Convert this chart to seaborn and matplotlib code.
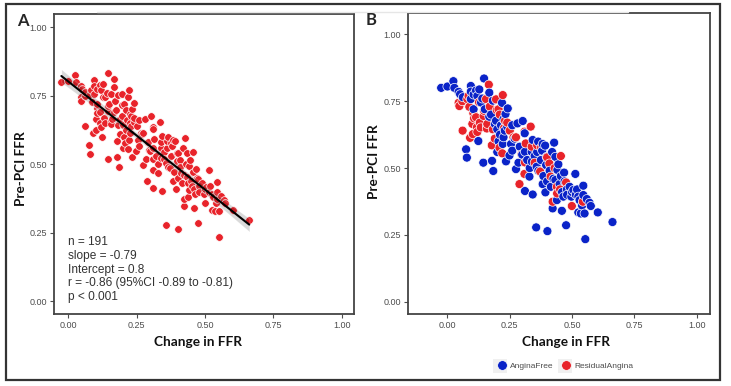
import matplotlib
matplotlib.use("Agg")
import matplotlib.pyplot as plt
from matplotlib.lines import Line2D
from matplotlib.patches import Rectangle
import seaborn as sns
import pandas as pd
import numpy as np

# ---- data ----
angina_free_x = [-0.025, 0.0, 0.024, 0.028, 0.045, 0.051, 0.062, 0.094, 0.094, 0.094,
                 0.105, 0.115, 0.128, 0.147, 0.168, 0.182, 0.219, 0.242, 0.233, 0.225,
                 0.195, 0.168, 0.158, 0.24, 0.211, 0.225, 0.205, 0.222, 0.124, 0.075,
                 0.078, 0.144, 0.179, 0.184, 0.235, 0.249, 0.275, 0.281, 0.302, 0.311,
                 0.329, 0.311, 0.342, 0.338, 0.339, 0.342, 0.364, 0.358, 0.382, 0.392,
                 0.398, 0.396, 0.382, 0.393, 0.428, 0.433, 0.445, 0.441, 0.433, 0.439,
                 0.422, 0.459, 0.468, 0.465, 0.479, 0.497, 0.513, 0.505, 0.525, 0.545,
                 0.545, 0.525, 0.535, 0.559, 0.575, 0.603, 0.662, 0.356, 0.401, 0.476,
                 0.553, 0.12, 0.135, 0.15, 0.175, 0.19, 0.20, 0.215, 0.23, 0.26,
                 0.27, 0.29, 0.30, 0.32, 0.33, 0.35, 0.365, 0.375, 0.385, 0.40,
                 0.41, 0.415, 0.42, 0.425, 0.45, 0.455, 0.46, 0.47, 0.48, 0.49,
                 0.50, 0.515, 0.52, 0.53, 0.54, 0.55, 0.57, 0.38, 0.36, 0.31,
                 0.285, 0.255, 0.26, 0.20, 0.105, 0.14]
angina_free_y = [0.80, 0.805, 0.825, 0.80, 0.785, 0.776, 0.765, 0.807, 0.786, 0.758,
                 0.775, 0.79, 0.794, 0.835, 0.782, 0.752, 0.744, 0.723, 0.702, 0.683,
                 0.677, 0.692, 0.658, 0.655, 0.625, 0.615, 0.60, 0.59, 0.601, 0.57,
                 0.539, 0.52, 0.527, 0.489, 0.525, 0.547, 0.496, 0.667, 0.676, 0.561,
                 0.468, 0.414, 0.401, 0.561, 0.524, 0.605, 0.599, 0.505, 0.59, 0.584,
                 0.542, 0.511, 0.44, 0.409, 0.595, 0.542, 0.514, 0.493, 0.455, 0.38,
                 0.349, 0.34, 0.483, 0.393, 0.42, 0.393, 0.478, 0.418, 0.393, 0.434,
                 0.399, 0.334, 0.33, 0.384, 0.358, 0.334, 0.298, 0.278, 0.264, 0.286,
                 0.234, 0.77, 0.745, 0.72, 0.70, 0.665, 0.645, 0.66, 0.64, 0.66,
                 0.61, 0.58, 0.55, 0.53, 0.50, 0.545, 0.49, 0.53, 0.47, 0.45,
                 0.49, 0.43, 0.56, 0.46, 0.44, 0.47, 0.41, 0.45, 0.40, 0.43,
                 0.41, 0.40, 0.42, 0.38, 0.36, 0.33, 0.37, 0.565, 0.56, 0.63,
                 0.52, 0.59, 0.565, 0.56, 0.72, 0.76]
residual_x = [0.045, 0.048, 0.08, 0.088, 0.127, 0.155, 0.166, 0.222, 0.195, 0.198,
              0.147, 0.104, 0.107, 0.118, 0.134, 0.158, 0.182, 0.061, 0.091, 0.102,
              0.178, 0.209, 0.231, 0.227, 0.265, 0.275, 0.334, 0.309, 0.314, 0.297,
              0.311, 0.309, 0.289, 0.338, 0.372, 0.376, 0.409, 0.414, 0.455, 0.439,
              0.452, 0.476, 0.422, 0.499, 0.543, 0.115, 0.13, 0.17, 0.21, 0.19,
              0.24, 0.10, 0.12, 0.16, 0.205, 0.25, 0.085, 0.36, 0.40, 0.43,
              0.44, 0.35, 0.22, 0.06, 0.145]
residual_y = [0.744, 0.732, 0.758, 0.729, 0.746, 0.758, 0.812, 0.773, 0.757, 0.717,
              0.714, 0.705, 0.686, 0.652, 0.652, 0.648, 0.645, 0.64, 0.613, 0.627,
              0.585, 0.576, 0.677, 0.649, 0.615, 0.615, 0.655, 0.636, 0.592, 0.551,
              0.521, 0.478, 0.44, 0.58, 0.487, 0.577, 0.517, 0.468, 0.545, 0.43,
              0.42, 0.446, 0.374, 0.358, 0.374, 0.69, 0.67, 0.73, 0.70, 0.61,
              0.67, 0.665, 0.635, 0.665, 0.72, 0.64, 0.77, 0.585, 0.54, 0.50,
              0.405, 0.52, 0.555, 0.75, 0.695]
groups = ["AnginaFree", "ResidualAngina"]
x_ticks = [0.00, 0.25, 0.50, 0.75, 1.00]
y_ticks = [0.00, 0.25, 0.50, 0.75, 1.00]
stats_lines = ["n = 191", "slope = -0.79", "Intercept = 0.8",
               "r = -0.86 (95%CI -0.89 to -0.81)", "p < 0.001"]
x_label = "Change in FFR"
y_label = "Pre-PCI FFR"

RED = "#E8232A"
BLUE = "#0A23C8"

df = pd.DataFrame({
    "chg": angina_free_x + residual_x,
    "pre": angina_free_y + residual_y,
    "group": [groups[0]] * len(angina_free_x) + [groups[1]] * len(residual_x),
})
df = df.sort_values("chg", kind="stable").reset_index(drop=True)

sns.set_style("white")
plt.rcParams["font.family"] = ["Liberation Sans", "DejaVu Sans"]

W, H = 731, 386
fig = plt.figure(figsize=(W / 100, H / 100), dpi=100)
axA = fig.add_axes([54 / W, 1 - 314 / H, 300 / W, 300 / H])
axB = fig.add_axes([408 / W, 1 - 314 / H, 302 / W, 301 / H])

# Panel A
sns.regplot(data=df, x="chg", y="pre", ax=axA, ci=95,
            scatter_kws=dict(color=RED, s=30, edgecolor="white", linewidths=0.5, alpha=1),
            line_kws=dict(color="black", lw=1.5))
axA.set_xlim(-0.052, 1.045)
axA.set_ylim(-0.047, 1.049)

# Panel B
sns.scatterplot(data=df, x="chg", y="pre", hue="group", hue_order=groups,
                palette={groups[0]: BLUE, groups[1]: RED}, s=42,
                edgecolor="white", linewidth=0.5, ax=axB, legend=False)
axB.set_xlim(-0.158, 1.053)
axB.set_ylim(-0.046, 1.08)

label_font = dict(family=["Lato", "DejaVu Sans"], weight="bold", size=9.8, color="#111111")
for ax in (axA, axB):
    ax.set_xticks(x_ticks)
    ax.set_yticks(y_ticks)
    ax.set_xticklabels([f"{t:.2f}" for t in x_ticks])
    ax.set_yticklabels([f"{t:.2f}" for t in y_ticks])
    ax.tick_params(axis="both", labelsize=6.5, labelcolor="#4d4d4d", color="#4d4d4d",
                   length=3, width=0.8, direction="out", bottom=True, left=True, pad=2)
    for sp in ax.spines.values():
        sp.set_visible(True)
        sp.set_color("#444444")
        sp.set_linewidth(1.3)
    ax.grid(False)
    ax.set_xlabel("")
    ax.set_ylabel("")

# axis titles placed as in the reference
fig.text(198 / W, 1 - 342 / H, x_label, ha="center", va="center", **label_font)
fig.text(566 / W, 1 - 342 / H, x_label, ha="center", va="center", **label_font)
fig.text(21 / W, 1 - 169 / H, y_label, ha="center", va="center", rotation=90, **label_font)
fig.text(374 / W, 1 - 162 / H, y_label, ha="center", va="center", rotation=90, **label_font)

# stats text
for i, s in enumerate(stats_lines):
    fig.text(68 / W, 1 - (242 + i * 13.8) / H, s, fontsize=8.6, color="#333333",
             va="center", ha="left")

# panel letters
fig.text(17 / W, 1 - 21 / H, "A", fontsize=12, weight="bold", va="center",
         family=["Lato", "DejaVu Sans"])
fig.text(366 / W, 1 - 20 / H, "B", fontsize=12, weight="bold", va="center",
         family=["Lato", "DejaVu Sans"])

# legend for B (with light grey key backgrounds like ggplot)
for cx in (500, 565):
    fig.add_artist(Rectangle(((cx - 7) / W, 1 - (366 + 7) / H), 14 / W, 14 / H,
                             transform=fig.transFigure, fc="#f0f0f0", ec="none", zorder=0))
handles = [Line2D([], [], marker="o", ls="", markersize=7, markerfacecolor=c,
                  markeredgecolor="white", markeredgewidth=0.5)
           for c in (BLUE, RED)]
leg = fig.legend(handles, groups, loc="center", ncol=2, frameon=False,
                 bbox_to_anchor=(565 / W, 1 - 366 / H), fontsize=6,
                 handletextpad=0.3, columnspacing=1.0, handlelength=1.2)
for t in leg.get_texts():
    t.set_color("#4d4d4d")

# outer border and faint top line
fig.add_artist(Rectangle((6 / W, 1 - 380 / H), 714 / W, 376 / H,
                         transform=fig.transFigure, fill=False, ec="#333333", lw=1.6))
fig.add_artist(Line2D([97 / W, 628 / W], [1 - 12 / H, 1 - 12 / H],
                      transform=fig.transFigure, color="#e6e6e6", lw=1))

fig.savefig("out.png", dpi=100)
